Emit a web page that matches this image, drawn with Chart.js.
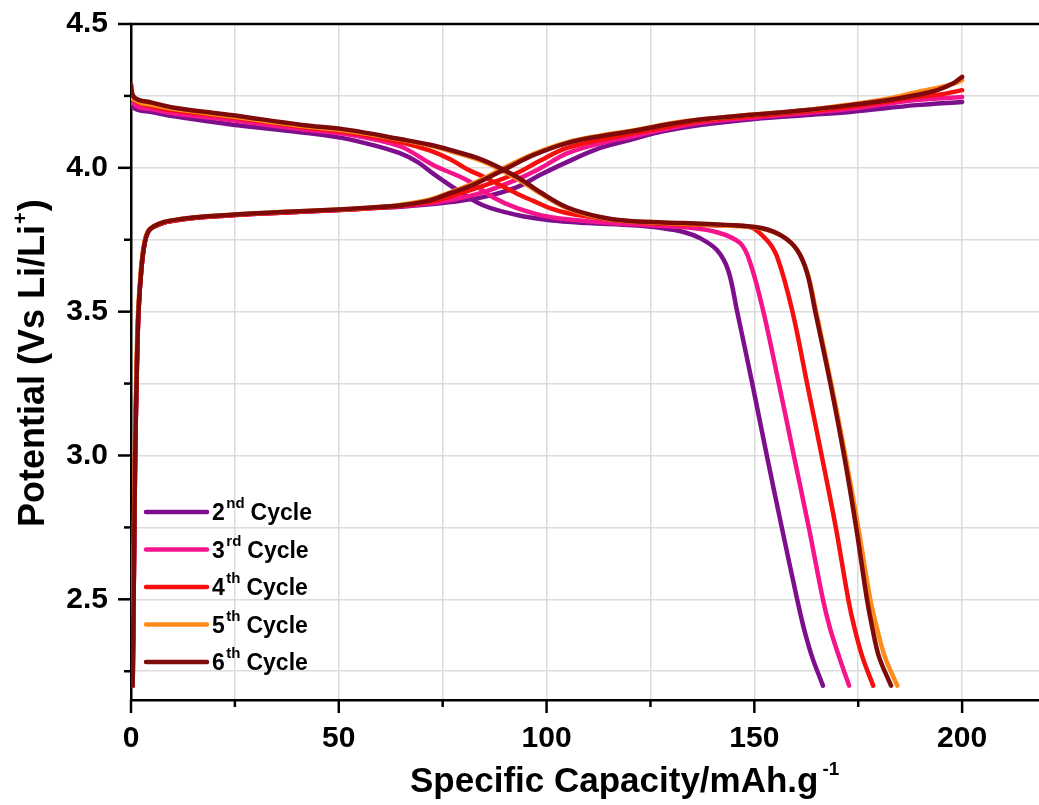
<!DOCTYPE html>
<html>
<head>
<meta charset="utf-8">
<script src="https://cdn.jsdelivr.net/npm/chart.js@4.4.1/dist/chart.umd.min.js"></script>
<style>
html,body{margin:0;padding:0;background:#fff;}
canvas{display:block;}
</style>
</head>
<body>
<canvas id="c" width="1039" height="805"></canvas>
<script>
// ---------------- data ----------------
const cycleNumbers  = ['2', '3', '4', '5', '6'];
const cycleSuffixes = ['nd', 'rd', 'th', 'th', 'th'];
const cycleWord = 'Cycle';
const cycleColors = ['#7d0f8c', '#f5148c', '#f50f0f', '#ff8c1a', '#7f0a0a'];

const xTickValues = [0, 25, 50, 75, 100, 125, 150, 175, 200];
const xTickLabels = ['0', '', '50', '', '100', '', '150', '', '200'];
const yTickValues = [2.25, 2.5, 2.75, 3.0, 3.25, 3.5, 3.75, 4.0, 4.25, 4.5];
const yTickLabels = ['', '2.5', '', '3.0', '', '3.5', '', '4.0', '', '4.5'];

const xTitle = 'Specific Capacity/mAh.g';
const xTitleSup = '-1';
const yTitle = 'Potential (Vs Li/Li';
const yTitleSup = '+';
const yTitleEnd = ')';

// charge curves (capacity, potential)
const chargeX2 = [0.4, 0.7, 1.0, 1.4, 1.8, 2.5, 3.3, 4.2, 5.5, 8, 12, 17, 25, 33, 42, 50, 58, 65, 72, 76.8, 84.7, 92.9, 98.4, 104.9, 112.9, 120.8, 128, 137, 150, 162, 173, 189, 200];
const chargeY2 = [2.20, 2.60, 3.00, 3.30, 3.50, 3.65, 3.74, 3.78, 3.795, 3.81, 3.82, 3.828, 3.836, 3.842, 3.848, 3.853, 3.86, 3.865, 3.873, 3.881, 3.898, 3.933, 3.975, 4.02, 4.069, 4.10, 4.127, 4.149, 4.17, 4.183, 4.194, 4.218, 4.229];
const chargeX3 = [0.4, 0.7, 1.0, 1.4, 1.8, 2.5, 3.3, 4.2, 5.5, 8, 12, 17, 25, 33, 42, 50, 58, 65, 72, 76.8, 84.7, 92.9, 98.4, 104.9, 112.9, 120.8, 128, 137, 150, 162, 173, 189, 200];
const chargeY3 = [2.20, 2.60, 3.00, 3.30, 3.50, 3.65, 3.74, 3.78, 3.795, 3.81, 3.82, 3.828, 3.836, 3.842, 3.848, 3.853, 3.86, 3.866, 3.877, 3.888, 3.915, 3.96, 3.998, 4.05, 4.085, 4.11, 4.133, 4.157, 4.175, 4.19, 4.205, 4.236, 4.246];
const chargeX4 = [0.4, 0.7, 1.0, 1.4, 1.8, 2.5, 3.3, 4.2, 5.5, 8, 12, 17, 25, 33, 42, 50, 58, 65, 72, 76.8, 84.7, 92.9, 98.4, 104.9, 112.9, 120.8, 128, 137, 150, 162, 173, 189, 196, 200];
const chargeY4 = [2.20, 2.60, 3.00, 3.30, 3.50, 3.65, 3.74, 3.78, 3.795, 3.81, 3.82, 3.828, 3.836, 3.842, 3.848, 3.853, 3.86, 3.868, 3.882, 3.90, 3.937, 3.982, 4.025, 4.069, 4.097, 4.12, 4.14, 4.163, 4.18, 4.196, 4.212, 4.246, 4.258, 4.27];
const chargeX5 = [0.3, 0.6, 0.9, 1.3, 1.7, 2.4, 3.2, 4.1, 5.5, 8, 12, 17, 25, 33, 42, 50, 58, 65, 72, 76.8, 80.5, 84.7, 90.5, 96.8, 104.9, 112.9, 120.8, 130, 137, 150, 162, 173, 182, 189, 194, 198, 200];
const chargeY5 = [2.20, 2.60, 3.00, 3.30, 3.50, 3.65, 3.74, 3.78, 3.797, 3.812, 3.822, 3.83, 3.838, 3.844, 3.85, 3.855, 3.862, 3.872, 3.89, 3.915, 3.935, 3.962, 4.005, 4.048, 4.088, 4.112, 4.13, 4.155, 4.168, 4.185, 4.20, 4.22, 4.24, 4.263, 4.278, 4.293, 4.305];
const chargeX6 = [0.4, 0.7, 1.0, 1.4, 1.8, 2.5, 3.3, 4.2, 5.5, 8, 12, 17, 25, 33, 42, 50, 58, 65, 72, 76.8, 80.5, 84.7, 90.5, 96.8, 104.9, 112.9, 120.8, 130, 137, 150, 162, 173, 182, 189, 194, 198, 200];
const chargeY6 = [2.20, 2.60, 3.00, 3.30, 3.50, 3.65, 3.74, 3.78, 3.797, 3.812, 3.822, 3.83, 3.838, 3.844, 3.85, 3.855, 3.862, 3.87, 3.887, 3.912, 3.93, 3.957, 3.999, 4.044, 4.086, 4.11, 4.128, 4.153, 4.168, 4.185, 4.20, 4.218, 4.235, 4.253, 4.27, 4.295, 4.316];

// discharge curves (capacity, potential)
const dischargeX2 = [0, 0.5, 2, 4.6, 10, 24.5, 40.7, 50.3, 58, 64.7, 69, 72.7, 78.5, 84.7, 92.9, 100.8, 110, 120.8, 128, 133, 137, 141, 143.7, 145.8, 149.5, 153, 156.6, 160.3, 161.9, 163.9, 166.5];
const dischargeY2 = [4.22, 4.21, 4.20, 4.195, 4.18, 4.15, 4.124, 4.105, 4.08, 4.051, 4.02, 3.98, 3.923, 3.87, 3.836, 3.818, 3.808, 3.80, 3.79, 3.777, 3.755, 3.714, 3.644, 3.505, 3.25, 3.0, 2.75, 2.5, 2.4, 2.3, 2.2];
const dischargeX3 = [0, 0.5, 2, 4.6, 10, 24.5, 40.7, 52.7, 64.7, 72.7, 80.9, 87.1, 92.9, 100.8, 112.9, 125, 132.9, 141, 146.6, 149, 152.1, 155.9, 159.5, 163.1, 166.5, 168.2, 170.4, 172.8];
const dischargeY3 = [4.24, 4.225, 4.21, 4.205, 4.19, 4.165, 4.135, 4.115, 4.075, 4.01, 3.957, 3.898, 3.86, 3.829, 3.811, 3.80, 3.794, 3.776, 3.738, 3.67, 3.505, 3.25, 3.0, 2.75, 2.5, 2.4, 2.3, 2.2];
const dischargeX4 = [0, 0.5, 2, 4.6, 10, 24.5, 40.7, 52.7, 64.7, 72, 76.8, 80.9, 84.7, 88.8, 92.9, 96.8, 100.8, 104.9, 112.9, 125, 140, 149, 153, 155.5, 159.1, 162.7, 166.2, 169.6, 172.6, 174.1, 176.0, 178.6];
const dischargeY4 = [4.27, 4.24, 4.225, 4.215, 4.20, 4.175, 4.143, 4.123, 4.09, 4.06, 4.03, 3.995, 3.97, 3.94, 3.91, 3.885, 3.86, 3.843, 3.825, 3.808, 3.80, 3.794, 3.749, 3.69, 3.505, 3.25, 3.0, 2.75, 2.5, 2.4, 2.3, 2.2];
const dischargeX5 = [0, 0.5, 2, 4.6, 10, 24.5, 40.7, 52.7, 64.7, 72, 76.8, 84.7, 92.9, 98.4, 104.9, 112.9, 120, 133, 145, 152, 157, 160.3, 162.8, 164.8, 168.5, 171.9, 175.0, 177.9, 179.5, 181.4, 184.4];
const dischargeY5 = [4.26, 4.24, 4.228, 4.22, 4.205, 4.178, 4.146, 4.127, 4.098, 4.077, 4.058, 4.022, 3.962, 3.912, 3.86, 3.827, 3.814, 3.806, 3.798, 3.788, 3.76, 3.714, 3.634, 3.505, 3.25, 3.0, 2.75, 2.5, 2.4, 2.3, 2.2];
const dischargeX6 = [0, 0.5, 2, 4.6, 10, 24.5, 40.7, 52.7, 64.7, 72, 76.8, 84.7, 92.9, 98.4, 104.9, 112.9, 120, 133, 145, 152, 157, 160.3, 162.7, 164.6, 168.3, 171.6, 174.5, 177.1, 178.4, 180.0, 182.9];
const dischargeY6 = [4.29, 4.25, 4.235, 4.228, 4.21, 4.183, 4.15, 4.131, 4.10, 4.08, 4.062, 4.027, 3.968, 3.916, 3.863, 3.829, 3.815, 3.808, 3.80, 3.79, 3.76, 3.714, 3.634, 3.505, 3.25, 3.0, 2.75, 2.5, 2.4, 2.3, 2.2];

const chargeXs = [chargeX2, chargeX3, chargeX4, chargeX5, chargeX6];
const chargeYs = [chargeY2, chargeY3, chargeY4, chargeY5, chargeY6];
const dischargeXs = [dischargeX2, dischargeX3, dischargeX4, dischargeX5, dischargeX6];
const dischargeYs = [dischargeY2, dischargeY3, dischargeY4, dischargeY5, dischargeY6];

// ---------------- chart ----------------
const FONT = '"Liberation Sans", Arial, Helvetica, sans-serif';
const toPts = (xs, ys) => xs.map((x, i) => ({x: x, y: ys[i]}));

const datasets = [];
cycleNumbers.forEach((n, i) => {
  const lbl = n + cycleSuffixes[i] + ' ' + cycleWord;
  const ord = cycleNumbers.length - 1 - i; // later cycles drawn on top
  datasets.push({label: lbl + ' charge', data: toPts(chargeXs[i], chargeYs[i]), borderColor: cycleColors[i], order: ord});
  datasets.push({label: lbl + ' discharge', data: toPts(dischargeXs[i], dischargeYs[i]), borderColor: cycleColors[i], order: ord});
});

const decor = {
  id: 'decor',
  afterDraw(chart) {
    const ctx = chart.ctx, ca = chart.chartArea;
    const xs = chart.scales.x, ys = chart.scales.y;
    ctx.save();
    ctx.strokeStyle = '#000';
    ctx.lineWidth = 2.5;
    ctx.lineCap = 'butt';
    // top frame line
    ctx.beginPath();
    ctx.moveTo(ca.left - 1.25, ca.top);
    ctx.lineTo(chart.width, ca.top);
    ctx.stroke();
    // y tick marks
    yTickValues.forEach((v, i) => {
      const p = ys.getPixelForValue(v);
      const len = yTickLabels[i] ? 13 : 7;
      ctx.beginPath();
      ctx.moveTo(ca.left, p);
      ctx.lineTo(ca.left - len, p);
      ctx.stroke();
    });
    // x tick marks
    xTickValues.forEach((v, i) => {
      const p = xs.getPixelForValue(v);
      const len = xTickLabels[i] ? 13 : 7;
      ctx.beginPath();
      ctx.moveTo(p, ca.bottom);
      ctx.lineTo(p, ca.bottom + len);
      ctx.stroke();
    });

    // legend
    ctx.fillStyle = '#000';
    ctx.textBaseline = 'alphabetic';
    ctx.textAlign = 'left';
    const lx0 = 146, lx1 = 207, tx = 212, ly0 = 512, ldy = 37.5;
    cycleNumbers.forEach((n, i) => {
      const y = ly0 + i * ldy;
      ctx.strokeStyle = cycleColors[i];
      ctx.lineWidth = 4.5;
      ctx.lineCap = 'round';
      ctx.beginPath();
      ctx.moveTo(lx0, y);
      ctx.lineTo(lx1, y);
      ctx.stroke();
      ctx.font = 'bold 23px ' + FONT;
      ctx.fillText(n, tx, y + 8);
      const w1 = ctx.measureText(n).width;
      ctx.font = 'bold 15px ' + FONT;
      ctx.fillText(cycleSuffixes[i], tx + w1 + 1.5, y - 4);
      const w2 = ctx.measureText(cycleSuffixes[i]).width;
      ctx.font = 'bold 23px ' + FONT;
      ctx.fillText(cycleWord, tx + w1 + 1.5 + w2 + 6, y + 8);
    });

    // x axis title
    ctx.font = 'bold 35px ' + FONT;
    ctx.fillText(xTitle, 410, 792);
    const wx = ctx.measureText(xTitle).width;
    ctx.font = 'bold 19px ' + FONT;
    ctx.fillText(xTitleSup, 410 + wx + 4, 775);

    // y axis title
    ctx.save();
    ctx.translate(44, 527);
    ctx.rotate(-Math.PI / 2);
    ctx.font = 'bold 36px ' + FONT;
    ctx.fillText(yTitle, 0, 0);
    const wy = ctx.measureText(yTitle).width;
    ctx.font = 'bold 20px ' + FONT;
    ctx.fillText(yTitleSup, wy + 1, -17);
    const wp = ctx.measureText(yTitleSup).width;
    ctx.font = 'bold 36px ' + FONT;
    ctx.fillText(yTitleEnd, wy + wp + 2, 0);
    ctx.restore();

    ctx.restore();
  }
};

new Chart(document.getElementById('c'), {
  type: 'line',
  data: {datasets: datasets},
  plugins: [decor],
  options: {
    responsive: false,
    animation: false,
    devicePixelRatio: 1,
    layout: {padding: {top: 24, left: 0, right: 0, bottom: 0}},
    plugins: {legend: {display: false}, tooltip: {enabled: false}, title: {display: false}},
    elements: {
      point: {radius: 0, hoverRadius: 0},
      line: {borderWidth: 4.5, tension: 0.35, borderCapStyle: 'round', borderJoinStyle: 'round', fill: false}
    },
    scales: {
      x: {
        type: 'linear',
        min: 0,
        max: 218.5,
        afterBuildTicks: (s) => { s.ticks = xTickValues.map(v => ({value: v})); },
        afterFit: (s) => { s.height = 105; s.paddingLeft = 0; s.paddingRight = 0; },
        ticks: {
          autoSkip: false, maxRotation: 0, minRotation: 0, padding: 21, color: '#000',
          font: {family: FONT, size: 30, weight: 'bold'},
          callback: (v, i) => xTickLabels[i]
        },
        grid: {color: '#dcdcdc', lineWidth: 1.5, drawTicks: false},
        border: {display: true, color: '#000', width: 2.5}
      },
      y: {
        type: 'linear',
        min: 2.15,
        max: 4.5,
        afterBuildTicks: (s) => { s.ticks = yTickValues.map(v => ({value: v})); },
        afterFit: (s) => { s.width = 131; s.paddingTop = 0; s.paddingBottom = 0; },
        ticks: {
          autoSkip: false, padding: 23, color: '#000',
          font: {family: FONT, size: 30, weight: 'bold'},
          callback: (v, i) => yTickLabels[i]
        },
        grid: {color: '#dcdcdc', lineWidth: 1.5, drawTicks: false},
        border: {display: true, color: '#000', width: 2.5}
      }
    }
  }
});
</script>
</body>
</html>
